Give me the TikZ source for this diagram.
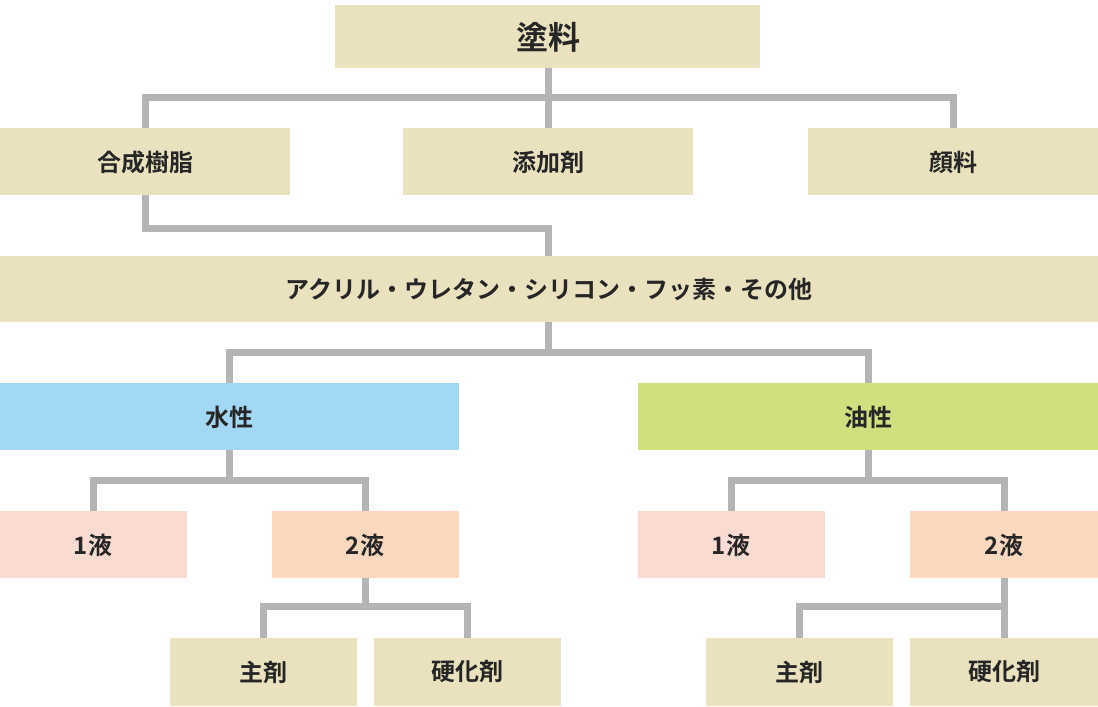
\documentclass[tikz,border=0pt]{standalone}
\usepackage{fontspec}
\setmainfont{Noto Sans CJK JP}[BoldFont={Noto Sans CJK JP Bold}]
\newfontfamily\jpb{Noto Sans CJK JP Bold}
\definecolor{beige}{HTML}{EAE2BF}
\definecolor{aqua}{HTML}{A2D8F4}
\definecolor{lime}{HTML}{CFE07F}
\definecolor{pinkc}{HTML}{FADBD2}
\definecolor{peach}{HTML}{FBD8BE}
\definecolor{linec}{HTML}{B4B4B4}
\begin{document}
\begin{tikzpicture}[x=1pt,y=-1pt,
  bx/.style={inner sep=0pt,font=\jpb\fontsize{24}{28}\selectfont,text=black!85},
  con/.style={draw=linec,line width=7pt}]
\useasboundingbox (0,0) rectangle (1098,707);
\newcommand\bx[6]{\fill[#5] (#1,#2) rectangle (#3,#4); \node[bx] (#6) at ({(#1+#3)/2},{(#2+#4)/2}) {};}
% connectors first
\draw[con] (548,68) -- (548,97);
\draw[con] (145,128) |- (548,97) -| (953,128);
\draw[con] (548,97) -- (548,128);
\draw[con] (145,195) |- (548,228) -- (548,256);
\draw[con] (548,322) -- (548,352);
\draw[con] (229,383) |- (548,352) -| (868,383);
\draw[con] (229,450) -- (229,480);
\draw[con] (93,511) |- (229,480) -| (365,511);
\draw[con] (868,450) -- (868,480);
\draw[con] (731,511) |- (868,480) -| (1004,511);
\draw[con] (365,578) -- (365,606);
\draw[con] (263,638) |- (365,606) -| (467,638);
\draw[con] (1004,578) -- (1004,638);
\draw[con] (799,638) |- (1004,606);
% boxes
\fill[beige] (335,5) rectangle (760,68);
\node[bx,font=\jpb\fontsize{32}{36}\selectfont] (top) at (548,37) {塗料};
\fill[beige] (0,128) rectangle (290,195); \node[bx] (a) at (145,162) {合成樹脂};
\fill[beige] (403,128) rectangle (693,195); \node[bx] (b) at (548,162) {添加剤};
\fill[beige] (808,128) rectangle (1098,195); \node[bx] (c) at (953,162) {顔料};
\fill[beige] (0,256) rectangle (1098,322); \node[bx] (bar) at (549,289) {アクリル・ウレタン・シリコン・フッ素・その他};
\fill[aqua] (0,383) rectangle (459,450); \node[bx] (w) at (229,417) {水性};
\fill[lime] (638,383) rectangle (1098,450); \node[bx] (o) at (868,417) {油性};
\fill[pinkc] (0,511) rectangle (187,578); \node[bx] (w1) at (93,545) {1液};
\fill[peach] (272,511) rectangle (459,578); \node[bx] (w2) at (365,545) {2液};
\fill[pinkc] (638,511) rectangle (825,578); \node[bx] (o1) at (731,545) {1液};
\fill[peach] (910,511) rectangle (1098,578); \node[bx] (o2) at (1004,545) {2液};
\fill[beige] (170,638) rectangle (357,706); \node[bx] (wm) at (263,672) {主剤};
\fill[beige] (374,638) rectangle (561,706); \node[bx] (wh) at (467,672) {硬化剤};
\fill[beige] (706,638) rectangle (893,706); \node[bx] (om) at (799,672) {主剤};
\fill[beige] (910,638) rectangle (1098,706); \node[bx] (oh) at (1004,672) {硬化剤};
\end{tikzpicture}
\end{document}
